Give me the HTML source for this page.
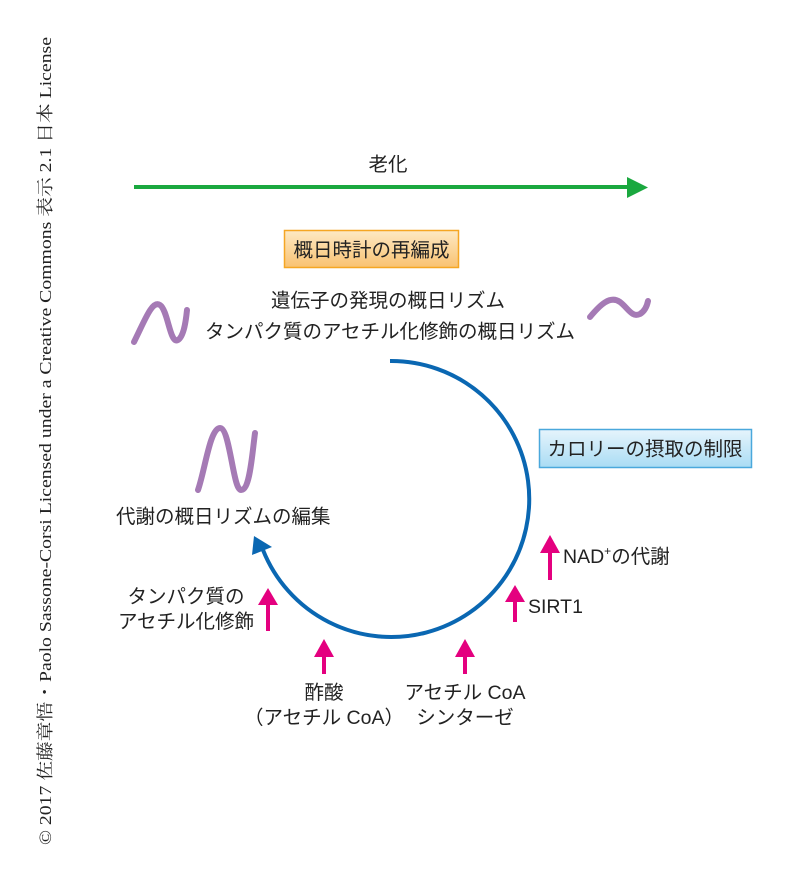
<!DOCTYPE html>
<html><head><meta charset="utf-8"><style>
body{margin:0;background:#fff}
svg{display:block}
text{font-family:"Liberation Sans","Noto Sans CJK JP",sans-serif;fill:#222}
</style></head><body>
<svg width="786" height="882" viewBox="0 0 786 882" xmlns="http://www.w3.org/2000/svg">
<defs>
<linearGradient id="og" x1="0" y1="0" x2="0" y2="1"><stop offset="0" stop-color="#fde9c4"/><stop offset="1" stop-color="#f9c271"/></linearGradient>
<linearGradient id="bg" x1="0" y1="0" x2="0" y2="1"><stop offset="0" stop-color="#e6f4fc"/><stop offset="1" stop-color="#a9dcf4"/></linearGradient>
</defs>
<text transform="translate(51,441) rotate(-90)" text-anchor="middle" font-size="17" textLength="808" lengthAdjust="spacingAndGlyphs" style="font-family:'Liberation Serif','Noto Serif CJK SC',serif">© 2017 佐藤章悟・Paolo Sassone-Corsi Licensed under a Creative Commons 表示 2.1 日本 License</text>
<text x="388" y="171" text-anchor="middle" font-size="19.5">老化</text>
<line x1="134" y1="187" x2="630" y2="187" stroke="#1aa83f" stroke-width="4"/>
<polygon points="627,177 648,187.5 627,198" fill="#1aa83f"/>
<rect x="284.5" y="230.5" width="174" height="37" fill="url(#og)" stroke="#f5a623" stroke-width="1.5"/>
<text x="371.5" y="256.5" text-anchor="middle" font-size="19.5">概日時計の再編成</text>
<text x="388" y="307" text-anchor="middle" font-size="19.5">遺伝子の発現の概日リズム</text>
<text x="390" y="338" text-anchor="middle" font-size="19.5">タンパク質のアセチル化修飾の概日リズム</text>
<path d="M134 342 C145 320 152 300 160 305 C168 310 170 345 178 340 C184 336 186 320 187 310" fill="none" stroke="#a57ab5" stroke-width="6" stroke-linecap="round"/>
<path d="M590 317 C600 305 610 295 620 302 C628 308 632 318 640 314 C645 311 647 306 648 301" fill="none" stroke="#a57ab5" stroke-width="6" stroke-linecap="round"/>
<path d="M198 490 C205 470 210 428 220 428 C230 428 233 490 241 490 C250 490 252 455 255 433" fill="none" stroke="#a57ab5" stroke-width="6" stroke-linecap="round"/>
<rect x="539.5" y="429.5" width="212" height="38" fill="url(#bg)" stroke="#4aa8dc" stroke-width="1.5"/>
<text x="645" y="455.5" text-anchor="middle" font-size="19.5">カロリーの摂取の制限</text>
<path d="M390 361 A138 138 0 1 1 263 550" fill="none" stroke="#0a67b2" stroke-width="4"/>
<polygon points="254,536 252,555 272,547" fill="#0a67b2"/>
<text x="116" y="523" font-size="19.5">代謝の概日リズムの編集</text>
<g fill="#e4007f">
<rect x="266" y="603" width="4" height="28"/><polygon points="258,605 268,588 278,605"/>
<rect x="322" y="652" width="4" height="22"/><polygon points="314,657 324,639 334,657"/>
<rect x="463" y="652" width="4" height="22"/><polygon points="455,657 465,639 475,657"/>
<rect x="513" y="595" width="4" height="27"/><polygon points="505,602 515,585 525,602"/>
<rect x="548" y="550" width="4" height="30"/><polygon points="540,553 550,535 560,553"/>
</g>
<text x="186" y="603" text-anchor="middle" font-size="19.5">タンパク質の</text>
<text x="186" y="628" text-anchor="middle" font-size="19.5">アセチル化修飾</text>
<text x="324" y="699" text-anchor="middle" font-size="19.5">酢酸</text>
<text x="324" y="724" text-anchor="middle" font-size="19.5">（アセチル CoA）</text>
<text x="465" y="699" text-anchor="middle" font-size="19.5">アセチル CoA</text>
<text x="465" y="724" text-anchor="middle" font-size="19.5">シンターゼ</text>
<text x="528" y="613" font-size="19.5">SIRT1</text>
<text x="563" y="563" font-size="19.5">NAD<tspan font-size="12" dy="-8">+</tspan><tspan dy="8">の代謝</tspan></text>
</svg>
</body></html>
